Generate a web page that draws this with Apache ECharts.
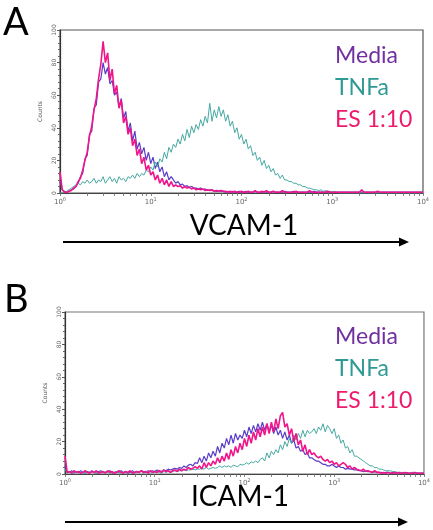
<!DOCTYPE html>
<html><head><meta charset="utf-8">
<script src="https://cdn.jsdelivr.net/npm/echarts@6/dist/echarts.min.js"></script>
<style>html,body{margin:0;padding:0;background:#fff}#c{width:433px;height:530px}</style>
</head><body><div id="c"></div>
<script>
// channel positions (log10 of fluorescence), 10^0 .. 10^4
const bins = [0,0.025,0.05,0.075,0.1,0.125,0.15,0.175,0.2,0.225,0.25,0.275,0.3,0.325,0.35,0.375,0.4,0.425,0.45,0.475,
0.5,0.525,0.55,0.575,0.6,0.625,0.65,0.675,0.7,0.725,0.75,0.775,0.8,0.825,0.85,0.875,0.9,0.925,0.95,0.975,
1,1.025,1.05,1.075,1.1,1.125,1.15,1.175,1.2,1.225,1.25,1.275,1.3,1.325,1.35,1.375,1.4,1.425,1.45,1.475,
1.5,1.525,1.55,1.575,1.6,1.625,1.65,1.675,1.7,1.725,1.75,1.775,1.8,1.825,1.85,1.875,1.9,1.925,1.95,1.975,
2,2.025,2.05,2.075,2.1,2.125,2.15,2.175,2.2,2.225,2.25,2.275,2.3,2.325,2.35,2.375,2.4,2.425,2.45,2.475,
2.5,2.525,2.55,2.575,2.6,2.625,2.65,2.675,2.7,2.725,2.75,2.775,2.8,2.825,2.85,2.875,2.9,2.925,2.95,2.975,
3,3.025,3.05,3.075,3.1,3.125,3.15,3.175,3.2,3.225,3.25,3.275,3.3,3.325,3.35,3.375,3.4,3.425,3.45,3.475,
3.5,3.525,3.55,3.575,3.6,3.625,3.65,3.675,3.7,3.725,3.75,3.775,3.8,3.825,3.85,3.875,3.9,3.925,3.95,3.975,4];

const decadeExponents = ['0','1','2','3','4'];
const countTicks = [0,20,40,60,80,100];
const seriesNames = ['Media','TNFa','ES 1:10'];
const panelLetters = ['A','B'];
const markerNames = ['VCAM-1','ICAM-1'];

// Panel A: VCAM-1
const mediaA = [7,2,1,0.5,1,2,2.5,4,6,10,
12,21,23,36,38,52,54,68,70,80,
73,77,67,69,60,62,53,58,46,50,
38,43,32,38,27,31,24,28,20,25,
18,22,15,19,13,16,10,13,8,10,
8,6,7,5,5.5,4,4.5,3.5,4,3,
3,2.5,3,2,2.5,1.5,2,1.5,1.5,1,
1.5,1,1,0.5,1,0.5,1,0.5,0.5,1,
0.5,0.5,1,0.5,0.5,0.5,1,0.5,0.5,0.5,
1,0.5,0.5,0.5,1,0.5,0.5,0.5,0.5,1,
0.5,0.5,0.5,1,0.5,0.5,0.5,0.5,0.5,0.5,
0.5,0.5,1,0.5,0.5,0.5,0.5,0.5,0.5,0.5,
0.5,0.5,0.5,0.5,0.5,0.5,0.5,0.5,0.5,0.5,
0.5,0.5,0.5,0.5,0.5,0.5,0.5,0.5,0.5,0.5,
0.5,0.5,0.5,0.5,0.5,0.5,0.5,0.5,0.5,0.5,
0.5,0.5,0.5,0.5,0.5,0.5,0.5,0.5,0.5,0.5,0.5];

const tnfaA = [0,0,0.5,1,2,3,4,5,6,5,
7,6,8,6,7,9,6,8,7,10,
6,8,10,7,9,6,10,8,9,7,
10,9,11,9,12,10,12,11,14,13,
16,14,19,16,21,19,25,21,28,25,
30,28,33,30,36,32,39,34,41,37,
42,39,45,41,47,43,55,44,51,46,
53,47,51,44,48,41,44,37,40,33,
36,30,33,27,29,23,25,20,22,17,
20,15,17,13,15,11,12,9,11,8,
8,7,7,6,6,5,5,4,4,3,
3,2.5,2,2,1.5,2,1,1.5,1,1,
0.5,1,0.5,0,0,0,0,0,0,0,
0,0,0,0,0,0,0,0,0,0,
0,0,0,0,0,0,0,0,0,0,
0,0,0,0,0,0,0,0,0,0,0];

const esA = [13,2,0.5,0.5,1,1.5,3,4,7,9,
14,20,25,35,41,51,58,70,79,93,
80,86,69,76,61,66,52,57,43,47,
36,40,29,33,23,27,18,22,14,17,
11,13,8,11,6,9,5,8,4,7,
4,5,4,4.5,3,4,3,3.5,2.5,3,
2,2.5,2,2.5,1.5,2,1.5,2,1,1.5,
1,1.5,1,1,0.5,1,0.5,1,0.5,0.5,
1,0.5,0.5,1,0.5,0.5,1.5,0.5,0.5,1,
0.5,1.5,0.5,0.5,1,0.5,0.5,0.5,1.5,0.5,
0.5,0.5,0.5,0.5,1,0.5,0.5,0.5,0.5,0.5,
1.5,0.5,0.5,0.5,0.5,0.5,0.5,0.5,1,0.5,
0.5,0.5,0.5,0.5,0.5,0.5,0.5,0.5,0.5,0.5,
0.5,0.5,0.5,2,0.5,0.5,0.5,0.5,0.5,0.5,
1,0.5,0.5,0.5,0.5,0.5,0.5,0.5,0.5,0.5,
0.5,0.5,0.5,0.5,0.5,0.5,0.5,0.5,0.5,0.5,0.5];

// Panel B: ICAM-1
const mediaB = [5,1,1,2,0.5,1.5,1,2,1,0.5,
1.5,1,2,1,0.5,1.5,2,1,1,1.5,
2,0.5,1,1.5,1,2,1,1.5,0.5,1,
2,1,1.5,1,2,1.5,1,2,1.5,2,
1.5,2.5,2,1.5,2.5,2,3,2.5,3,3.5,
3,4,3.5,5,4,5.5,6,5,7,6.5,
10,7,11,8,13,10,14,11,17,13,
19,16,22,18,24,19,25,21,24,22,
27,23,29,25,30,26,31,27,32,27,
31,26,30,25,29,24,27,22,26,21,
24,19,21,16,17,14,15,12,13,10,
10,9,8,8,7,6,6,5,5,6,
5,4,5,4,4,3,3.5,3,3,2.5,
2.5,2,2,1.5,2,1.5,1.5,1,1.5,1,
1,1,0.5,1,1,0.5,1,0.5,1,0.5,
0.5,1,0.5,0.5,0.5,1,0.5,0.5,0.5,0.5,0.5];

const tnfaB = [3,0.5,1,0.5,1,1.5,0.5,1,1,0.5,
1,0.5,1.5,1,0.5,1,1,0.5,1.5,1,
0.5,1,1,1.5,0.5,1,1,0.5,1,1.5,
1,0.5,1,1,1.5,0.5,1,1,0.5,1,
1,1.5,1,0.5,1.5,1,1.5,1,1.5,2,
1.5,2,2,2.5,2,2.5,2.5,3,2.5,3,
3,3.5,3,4,3,3.5,4,3.5,4,5,
4,5,4.5,5,4,5.5,5,4.5,6,5.5,
6,7,6,7.5,7,8,7,9,10,8,
13,10,14,12,15,13,18,15,20,17,
22,19,24,21,25,22,27,23,27,25,
26,28,25,29,27,31,26,30,28,25,
28,22,24,19,21,16,17,13,15,11,
11,10,9,8,7,6,5,5,4,4,
3,3,2.5,2,2,2,1.5,1.5,1,1,
1,0.5,1,0.5,0.5,1,0.5,0.5,0.5,0.5,0.5];

const esB = [11,1,1.5,0.5,2,1,1.5,0.5,1,2,
1,0.5,1.5,1,2,0.5,1,1.5,0.5,2,
1,1.5,0.5,1,2,1,0.5,1.5,1,2,
0.5,1,1.5,1,2,1,1.5,0.5,2,1,
1.5,1,2,1,2.5,1.5,2,1,2,2.5,
1.5,3,2,3,2.5,4,3,3.5,4.5,3.5,
5,3,7,4,7,5,8,6,10,7,
11,8,13,9,15,11,17,13,19,15,
22,17,24,19,26,21,28,23,29,24,
31,25,32,26,34,28,36,38,29,31,
24,28,20,25,18,21,14,18,12,15,
12,13,11,10,11,9,8,9,7,8,
6,7,5,6,7,6,4,5,3,4,
3,2.5,2,3,1.5,2,1.5,1,2,1,
1,0.5,1,0.5,1,0.5,0.5,1,0.5,1,
0.5,0.5,1,0.5,0.5,0.5,1,0.5,0.5,0.5,0.5];

const colors = {line: ['#5a3cc8','#45a8a0','#f0158a'], text: ['#7030a0','#2f9a94','#ee1a6c']};

function pairs(ys){ return bins.map((x,i)=>[x, ys[i]]); }

const minorPos = [];
for (let d=0; d<4; d++) for (let k=1; k<10; k++) minorPos.push(d + Math.log10(k));
minorPos.push(4);

const FONT = 'Lato, "Open Sans", sans-serif';

function xAxis(gi){
  return {
    type:'value', gridIndex:gi, min:0, max:4, interval:1,
    axisLine:{show:true, onZero:false, lineStyle:{color:'#444', width:1}},
    axisTick:{show:true, length:3, inside:false, customValues:minorPos, lineStyle:{color:'#666', width:0.8}},
    splitLine:{show:false},
    axisLabel:{margin:4, formatter:(v)=>'{b|10}{s|'+decadeExponents[Math.round(v)]+'}',
      rich:{b:{fontSize:7, color:'#666', fontFamily:'"DejaVu Sans"'}, s:{fontSize:5, color:'#666', padding:[0,0,5,0], fontFamily:'"DejaVu Sans"'}}}
  };
}
function yAxis(gi){
  return {
    type:'value', gridIndex:gi, min:0, max:100, interval:20,
    name:'Counts', nameLocation:'middle', nameGap:14, nameRotate:90,
    nameTextStyle:{fontSize:6, color:'#555', fontFamily:'"DejaVu Sans"'},
    axisLine:{show:true, lineStyle:{color:'#333', width:1.2}},
    axisTick:{show:true, length:3, lineStyle:{color:'#555'}},
    minorTick:{show:true, splitNumber:5, length:2, lineStyle:{color:'#666'}},
    splitLine:{show:false},
    axisLabel:{rotate:90, fontSize:6, color:'#666', margin:3, fontFamily:'"DejaVu Sans"',
      formatter:(v)=>countTicks.includes(v)? String(v):''}
  };
}
function line(name, ys, gi, ci, w){
  return {name, type:'line', xAxisIndex:gi, yAxisIndex:gi, data:pairs(ys), showSymbol:false,
    symbol:'none', lineStyle:{color:colors.line[ci], width:w}, itemStyle:{color:colors.line[ci]},
    animation:false, z: 2+ci};
}
function legend(top){
  return {left:325, top, orient:'vertical', icon:'none', itemWidth:0, itemHeight:0, itemGap:9,
    selectedMode:false,
    data: seriesNames.map((n,i)=>({name:n, textStyle:{color:colors.text[i], fontSize:23, fontFamily:FONT}}))};
}
function arrow(x1,x2,y){
  return [
    {type:'line', shape:{x1:x1, y1:y, x2:x2-8, y2:y}, style:{stroke:'#000', lineWidth:2}},
    {type:'polygon', shape:{points:[[x2-10,y-4.5],[x2,y],[x2-10,y+4.5]]}, style:{fill:'#000'}}
  ];
}

const chart = echarts.init(document.getElementById('c'), null, {renderer:'canvas'});
chart.setOption({
  animation:false,
  backgroundColor:'#fff',
  grid:[
    {left:60, top:30, width:363, height:163, show:true, borderColor:'#555', borderWidth:1.2, backgroundColor:'transparent'},
    {left:65, top:312, width:359, height:162, show:true, borderColor:'#777', borderWidth:1.2, backgroundColor:'transparent'}
  ],
  xAxis:[xAxis(0), xAxis(1)],
  yAxis:[yAxis(0), yAxis(1)],
  legend:[legend(39), legend(320)],
  series:[
    line(seriesNames[1], tnfaA, 0, 1, 1),
    line(seriesNames[0], mediaA, 0, 0, 1.2),
    line(seriesNames[2], esA, 0, 2, 1.6),
    line(seriesNames[1], tnfaB, 1, 1, 1),
    line(seriesNames[0], mediaB, 1, 0, 1.2),
    line(seriesNames[2], esB, 1, 2, 1.6)
  ],
  graphic:[
    {type:'text', left:3, top:4, style:{text:panelLetters[0], font:'38px '+FONT, fill:'#000'}},
    {type:'text', left:4, top:281, style:{text:panelLetters[1], font:'38px '+FONT, fill:'#000'}},
    {type:'text', x:244, y:226, style:{text:markerNames[0], font:'28px '+FONT, fill:'#000', align:'center', verticalAlign:'middle'}},
    {type:'text', x:240, y:497, style:{text:markerNames[1], font:'28px '+FONT, fill:'#000', align:'center', verticalAlign:'middle'}},
    ...arrow(63,409,242),
    ...arrow(65,408,522)
  ]
});
</script></body></html>
